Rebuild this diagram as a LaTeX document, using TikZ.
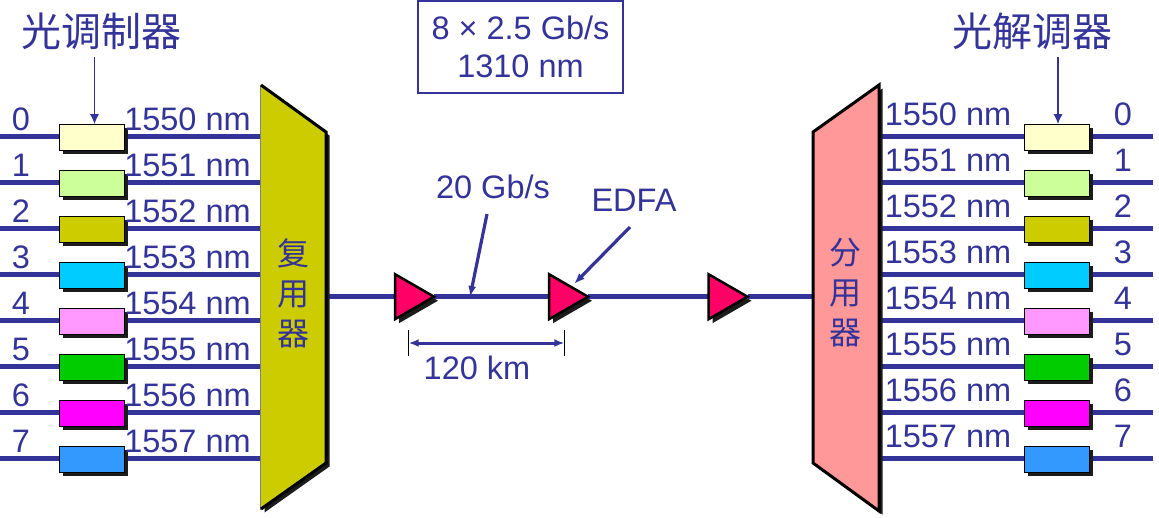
\documentclass[tikz,border=0pt]{standalone}
\usepackage{fontspec}
\setmainfont{Liberation Sans}
\newfontfamily\cjk{Noto Sans CJK SC}
\usetikzlibrary{arrows.meta,backgrounds,shadows,shapes.geometric}
\definecolor{ink}{HTML}{333399}
\definecolor{shade}{HTML}{1C1C1C}
\definecolor{muxfill}{HTML}{CCCC00}
\definecolor{demuxfill}{HTML}{FF9999}
\definecolor{ampfill}{HTML}{FF0066}
\definecolor{row0}{HTML}{FFFFCC}
\definecolor{row1}{HTML}{CCFF99}
\definecolor{row2}{HTML}{CCCC00}
\definecolor{row3}{HTML}{00CCFF}
\definecolor{row4}{HTML}{FF99FF}
\definecolor{row5}{HTML}{00CC00}
\definecolor{row6}{HTML}{FF00FF}
\definecolor{row7}{HTML}{3399FF}
\tikzset{
    boxshadow/.style={general shadow={shadow xshift=3.5pt,shadow yshift=-3.5pt,fill=shade}},
    unitbox/.style={draw=black,line width=1.2pt,minimum width=65pt,minimum height=26pt,inner sep=0pt,outer sep=0pt,boxshadow},
    label/.style={text=ink,font=\fontsize{32.5}{38}\selectfont,inner sep=0pt,anchor=base},
    biglabel/.style={text=ink,font=\fontsize{40}{44}\selectfont\cjk,inner sep=0pt},
    muxtext/.style={text=ink,font=\fontsize{32}{40}\selectfont\cjk,inner sep=0pt,align=center},
    muxbody/.style={draw=black,line width=3pt,line join=miter,boxshadow},
    amp/.style={isosceles triangle,isosceles triangle stretches,draw=black,line width=2.5pt,fill=ampfill,minimum width=45pt,minimum height=39pt,inner sep=0pt,outer sep=0pt,anchor=west,general shadow={shadow xshift=4pt,shadow yshift=-4pt,fill=shade}},
    fibre/.style={draw=ink,line width=4.5pt},
    pointer/.style={draw=ink,line width=3.2pt,-{Latex[length=11pt,width=8pt]}},
    thinpointer/.style={draw=ink,line width=1.4pt,-{Latex[length=10pt,width=9pt]}},
}
\begin{document}
\begin{tikzpicture}[x=1pt,y=-1pt]
    \useasboundingbox (0,0) rectangle (1159,517);

    % multiplexers
    \fill[muxfill,boxshadow] (261,85)--(326,132)--(326,463)--(261,509)--cycle;
    \draw[black!50,line width=1.2pt] (260.5,85)--(260.5,510);
    \draw[draw=black,line width=3pt,line join=miter] (261,85)--(326,132)--(326,463)--(261,509);
    \node[muxtext,minimum width=65pt,minimum height=424pt] at (293.5,297)(mux) {};
    \node[muxtext] at (293.5,293)(muxname) {复\\用\\器};
    \path[muxbody,fill=demuxfill] (813,132)--(879,85)--(879,511)--(813,463)--cycle;
    \node[muxtext,minimum width=66pt,minimum height=426pt] at (846,298)(demux) {};
    \node[muxtext] at (845.5,293)(demuxname) {分\\用\\器};

    \foreach \i in {0,...,7}
    {
        \pgfmathsetmacro\y{136.7+46*\i}
        \pgfmathsetmacro\ya{130+46*\i}
        \pgfmathsetmacro\yb{125+46*\i}
        \pgfmathtruncatemacro\nm{1550+\i}
        % left side
        \coordinate (in\i) at (0,\y);
        \node[unitbox,fill=row\i] at (92,\y+0.5)(mod\i) {};
        \node[label] at (21,\ya)(inlabel\i) {\i};
        \node[label] at (187.5,\ya)(modlabel\i) {\nm\ nm};
        % right side
        \coordinate (out\i) at (1153,\y);
        \node[unitbox,fill=row\i] at (1057,\y+0.5)(dem\i) {};
        \node[label] at (1123,\yb)(outlabel\i) {\i};
        \node[label] at (948,\yb)(demlabel\i) {\nm\ nm};
        \begin{pgfonlayer}{background}
            \draw[fibre] (in\i) -- (in\i -| mod\i.west);
            \draw[fibre] (in\i -| mod\i.east) -- (in\i -| mux.west);
            \draw[fibre] (in\i -| demux.east) -- (in\i -| dem\i.west);
            \draw[fibre] (in\i -| dem\i.east) -- (out\i);
        \end{pgfonlayer}
    }

    \node[biglabel] at (101,31)(modname) {光调制器};
    \node[biglabel] at (1032,31)(demname) {光解调器};
    \coordinate (modtail) at (94.5,57);
    \coordinate (demtail) at (1058,57);
    \draw[thinpointer] (modtail) -- (modtail |- mod0.north);
    \draw[thinpointer] (demtail) -- (demtail |- dem0.north);

    % line in the middle
    \node[amp] at (395,296.7)(amp1) {};
    \node[amp] at (549,296.7)(amp2) {};
    \node[amp] at (708.5,296.7)(amp3) {};
    \begin{pgfonlayer}{background}
        \draw[fibre] (mux.east |- amp1.west) -- (amp1.west);
        \draw[fibre] (amp1.east) -- (amp2.west);
        \draw[fibre] (amp2.east) -- (amp3.west);
        \draw[fibre] (amp3.east) -- (demux.west |- amp3.east);
    \end{pgfonlayer}

    \node[draw=ink,line width=1.5pt,text=ink,font=\fontsize{32.5}{38}\selectfont,align=center,inner sep=0pt,minimum width=205pt,minimum height=92pt] at (520.5,47)(rate) {8 × 2.5 Gb/s\\1310 nm};

    \node[label] at (493,198)(speed) {20 Gb/s};
    \coordinate (speedtail) at (487,214);
    \coordinate (speedhead) at (470,297);
    \draw[pointer] (speedtail) -- (speedhead);

    \node[label] at (634,211)(edfa) {EDFA};
    \coordinate (edfatail) at (630,227);
    \draw[pointer] (edfatail) -- (574,284);

    \coordinate (spanl) at (408.7,343);
    \coordinate (spanr) at (564.3,343);
    \draw[black,line width=1pt] (spanl)+(0,-13) -- +(0,13);
    \draw[black,line width=1pt] (spanr)+(0,-13) -- +(0,13);
    \draw[draw=ink,line width=3pt,{Latex[length=10pt,width=8pt]}-{Latex[length=10pt,width=8pt]}] (spanl) -- (spanr);
    \node[label] at (477,379)(span) {120 km};
\end{tikzpicture}
\end{document}
